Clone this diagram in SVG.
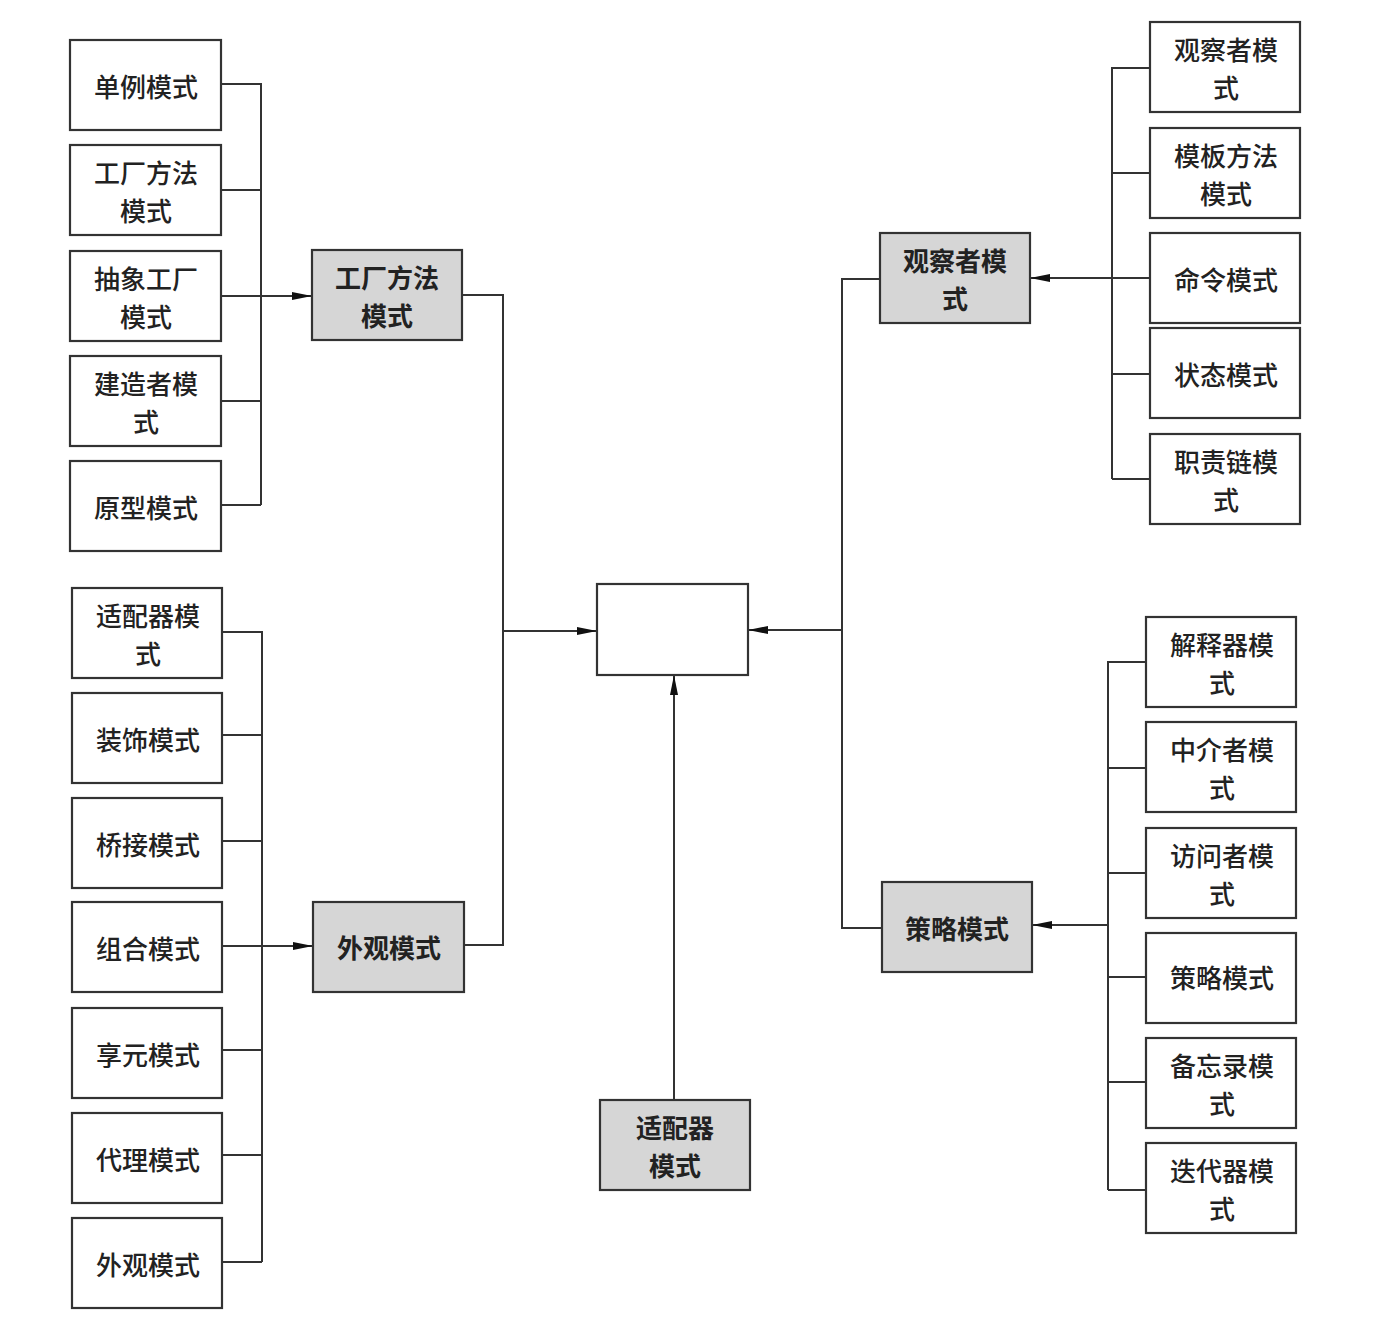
<svg xmlns="http://www.w3.org/2000/svg" width="1375" height="1329" viewBox="0 0 1375 1329">
<defs>
<style>
.b{fill:#fff;stroke:#333;stroke-width:2.2}
.g{fill:#d6d6d6;stroke:#333;stroke-width:2.2}
.t{font-family:"Noto Sans CJK SC","Noto Sans",sans-serif;font-size:26px;fill:#222;text-anchor:middle;dominant-baseline:central;font-weight:500}
.tg{font-weight:700}
.c{fill:none;stroke:#333;stroke-width:2}
</style>
<marker id="ar" viewBox="0 0 20 10" refX="20" refY="5" markerWidth="20" markerHeight="10" markerUnits="userSpaceOnUse" orient="auto">
<path d="M0,1 L20,5 L0,9 Z" fill="#111"/>
</marker>
</defs>
<rect width="1375" height="1329" fill="#fff"/>

<g id="connectors">
<path class="c" d="M221,84 H261 V505 M221,190 H261 M221,401 H261 M221,505 H261"/>
<path class="c" d="M221,296 H312" marker-end="url(#ar)"/>
<path class="c" d="M222,632 H262 V1262 M222,735 H262 M222,841 H262 M222,1050 H262 M222,1155 H262 M222,1262 H262"/>
<path class="c" d="M222,946 H313" marker-end="url(#ar)"/>
<path class="c" d="M462,295 H503 V945 H464"/>
<path class="c" d="M503,631 H597" marker-end="url(#ar)"/>
<path class="c" d="M880,279 H842 V928 H882"/>
<path class="c" d="M842,630 H748" marker-end="url(#ar)"/>
<path class="c" d="M1150,68 H1112 V479 M1150,173 H1112 M1150,374 H1112 M1150,479 H1112"/>
<path class="c" d="M1150,278 H1030" marker-end="url(#ar)"/>
<path class="c" d="M1146,662 H1108 V1190 M1146,768 H1108 M1146,873 H1108 M1146,977 H1108 M1146,1082 H1108 M1146,1190 H1108"/>
<path class="c" d="M1108,925 H1032" marker-end="url(#ar)"/>
<path class="c" d="M674,1100 V675" marker-end="url(#ar)"/>
</g>

<g id="center"><rect class="b" x="597" y="584" width="151" height="91"/></g>

<g id="n1"><rect class="b" x="70" y="40" width="151" height="90"/><text class="t" x="146" y="85">单例模式</text></g>
<g id="n2"><rect class="b" x="70" y="145" width="151" height="90"/><text class="t" x="146" y="171">工厂方法<tspan x="146" dy="38">模式</tspan></text></g>
<g id="n3"><rect class="b" x="70" y="251" width="151" height="90"/><text class="t" x="146" y="277">抽象工厂<tspan x="146" dy="38">模式</tspan></text></g>
<g id="n4"><rect class="b" x="70" y="356" width="151" height="90"/><text class="t" x="146" y="382">建造者模<tspan x="146" dy="38">式</tspan></text></g>
<g id="n5"><rect class="b" x="70" y="461" width="151" height="90"/><text class="t" x="146" y="506">原型模式</text></g>

<g id="g1"><rect class="g" x="312" y="250" width="150" height="90"/><text class="t tg" x="387" y="276">工厂方法<tspan x="387" dy="38">模式</tspan></text></g>

<g id="m1"><rect class="b" x="72" y="588" width="150" height="90"/><text class="t" x="148" y="614">适配器模<tspan x="148" dy="38">式</tspan></text></g>
<g id="m2"><rect class="b" x="72" y="693" width="150" height="90"/><text class="t" x="148" y="738">装饰模式</text></g>
<g id="m3"><rect class="b" x="72" y="798" width="150" height="90"/><text class="t" x="148" y="843">桥接模式</text></g>
<g id="m4"><rect class="b" x="72" y="902" width="150" height="90"/><text class="t" x="148" y="947">组合模式</text></g>
<g id="m5"><rect class="b" x="72" y="1008" width="150" height="90"/><text class="t" x="148" y="1053">享元模式</text></g>
<g id="m6"><rect class="b" x="72" y="1113" width="150" height="90"/><text class="t" x="148" y="1158">代理模式</text></g>
<g id="m7"><rect class="b" x="72" y="1218" width="150" height="90"/><text class="t" x="148" y="1263">外观模式</text></g>

<g id="g2"><rect class="g" x="313" y="902" width="151" height="90"/><text class="t tg" x="389" y="946">外观模式</text></g>

<g id="g3"><rect class="g" x="880" y="233" width="150" height="90"/><text class="t tg" x="955" y="259">观察者模<tspan x="955" dy="38">式</tspan></text></g>
<g id="g4"><rect class="g" x="882" y="882" width="150" height="90"/><text class="t tg" x="957" y="927">策略模式</text></g>
<g id="g5"><rect class="g" x="600" y="1100" width="150" height="90"/><text class="t tg" x="675" y="1126">适配器<tspan x="675" dy="38">模式</tspan></text></g>

<g id="r1"><rect class="b" x="1150" y="22" width="150" height="90"/><text class="t" x="1226" y="48">观察者模<tspan x="1226" dy="38">式</tspan></text></g>
<g id="r2"><rect class="b" x="1150" y="128" width="150" height="90"/><text class="t" x="1226" y="154">模板方法<tspan x="1226" dy="38">模式</tspan></text></g>
<g id="r3"><rect class="b" x="1150" y="233" width="150" height="90"/><text class="t" x="1226" y="278">命令模式</text></g>
<g id="r4"><rect class="b" x="1150" y="328" width="150" height="90"/><text class="t" x="1226" y="373">状态模式</text></g>
<g id="r5"><rect class="b" x="1150" y="434" width="150" height="90"/><text class="t" x="1226" y="460">职责链模<tspan x="1226" dy="38">式</tspan></text></g>

<g id="s1"><rect class="b" x="1146" y="617" width="150" height="90"/><text class="t" x="1222" y="643">解释器模<tspan x="1222" dy="38">式</tspan></text></g>
<g id="s2"><rect class="b" x="1146" y="722" width="150" height="90"/><text class="t" x="1222" y="748">中介者模<tspan x="1222" dy="38">式</tspan></text></g>
<g id="s3"><rect class="b" x="1146" y="828" width="150" height="90"/><text class="t" x="1222" y="854">访问者模<tspan x="1222" dy="38">式</tspan></text></g>
<g id="s4"><rect class="b" x="1146" y="933" width="150" height="90"/><text class="t" x="1222" y="976">策略模式</text></g>
<g id="s5"><rect class="b" x="1146" y="1038" width="150" height="90"/><text class="t" x="1222" y="1064">备忘录模<tspan x="1222" dy="38">式</tspan></text></g>
<g id="s6"><rect class="b" x="1146" y="1143" width="150" height="90"/><text class="t" x="1222" y="1169">迭代器模<tspan x="1222" dy="38">式</tspan></text></g>
</svg>
